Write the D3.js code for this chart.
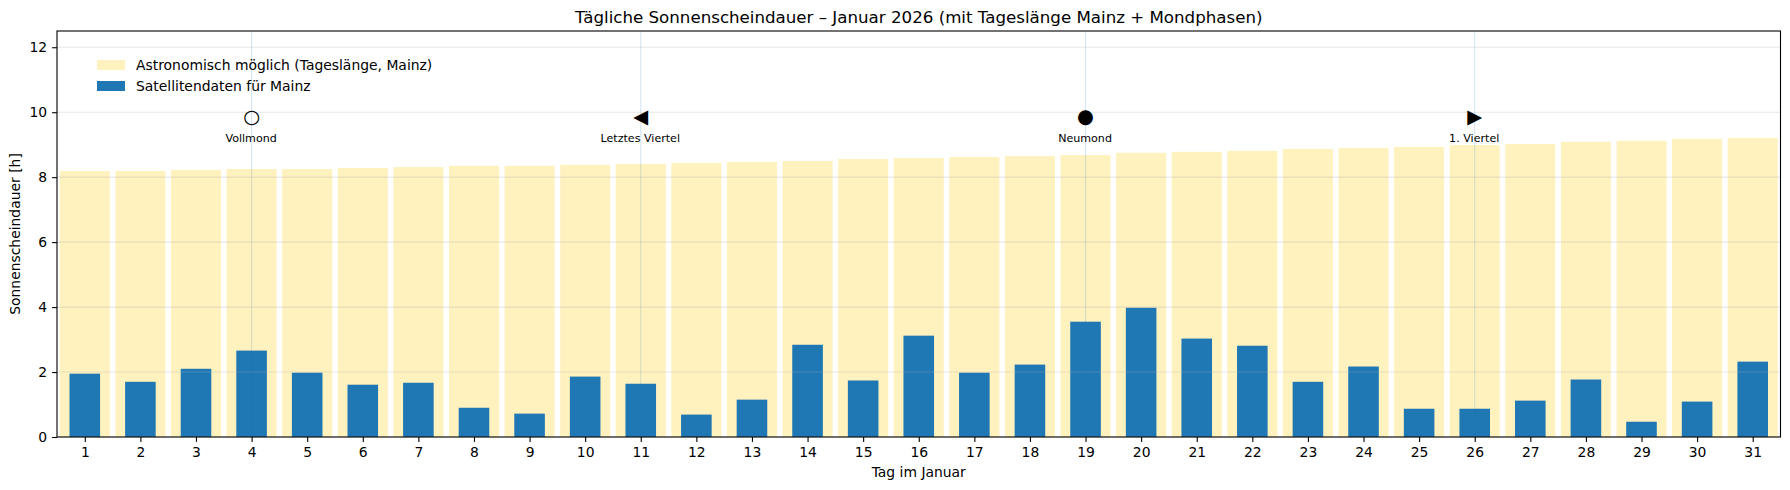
<!DOCTYPE html>
<html>
<head>
<meta charset="utf-8">
<script src="https://cdn.jsdelivr.net/npm/d3@7"></script>
<style>
html, body { margin:0; padding:0; background:#fff; }
svg { display:block; }
text { font-family:"DejaVu Sans"; fill:#000; }
.tick text { font-size:13.9px; }
</style>
</head>
<body>
<div id="chart"></div>
<script>
var days = d3.range(1,32)
var dayLength = [8.19,8.19,8.22,8.25,8.25,8.28,8.31,8.35,8.35,8.38,8.41,8.44,8.47,8.50,8.56,8.59,8.62,8.65,8.68,8.75,8.78,8.81,8.87,8.90,8.93,8.99,9.02,9.09,9.12,9.18,9.21]
var sunshine = [1.95,1.70,2.10,2.66,1.98,1.61,1.67,0.90,0.72,1.86,1.64,0.69,1.15,2.84,1.74,3.12,1.98,2.23,3.55,3.98,3.03,2.81,1.70,2.17,0.87,0.87,1.12,1.77,0.47,1.09,2.32]
var phaseDays = [4,11,19,26]
var phaseNames = ["Vollmond","Letztes Viertel","Neumond","1. Viertel"]
var phaseSymbols = ["○","◀","●","▶"]
var yTicks = [0,2,4,6,8,10,12]
var legendLabels = ["Astronomisch möglich (Tageslänge, Mainz)","Satellitendaten für Mainz"]

var width = 1790, height = 490
var left = 57, right = 1780.5, top_ = 31, bottom = 437
var yellow = "#fff2bf", blue = "#1f77b4"

var x = d3.scaleLinear().domain([0.5,31.5]).range([left,right])
var y = d3.scaleLinear().domain([0,12.5]).range([bottom,top_])
var dayW = x(2)-x(1)

var svg = d3.select("#chart").append("svg").attr("width",width).attr("height",height)

svg.selectAll(".day")
.data(days)
.enter()
.append("rect")
.attr("class","day")
.attr("x",function(d){return x(d-0.45)})
.attr("y",function(d,i){return y(dayLength[i])})
.attr("width",dayW*0.9)
.attr("height",function(d,i){return bottom-y(dayLength[i])})
.attr("fill",yellow)

svg.selectAll(".sun")
.data(days)
.enter()
.append("rect")
.attr("class","sun")
.attr("x",function(d){return x(d-0.275)})
.attr("y",function(d,i){return y(sunshine[i])})
.attr("width",dayW*0.55)
.attr("height",function(d,i){return bottom-y(sunshine[i])})
.attr("fill",blue)

// grid sits above the bars
svg.selectAll(".gridline")
.data(yTicks)
.enter()
.append("line")
.attr("class","gridline")
.attr("x1",left).attr("x2",right)
.attr("y1",function(d){return y(d)}).attr("y2",function(d){return y(d)})
.attr("stroke","#b0b0b0")
.attr("stroke-opacity",0.3)
.attr("stroke-width",1.1)

svg.selectAll(".phaseLine")
.data(phaseDays)
.enter()
.append("line")
.attr("class","phaseLine")
.attr("x1",function(d){return x(d)}).attr("x2",function(d){return x(d)})
.attr("y1",top_).attr("y2",bottom)
.attr("stroke",blue)
.attr("stroke-opacity",0.2)
.attr("stroke-width",1)

svg.selectAll(".phaseSymbol")
.data(phaseDays)
.enter()
.append("text")
.attr("class","phaseSymbol")
.attr("x",function(d){return x(d)})
.attr("y",y(9.88))
.attr("text-anchor","middle")
.attr("dominant-baseline","central")
.style("font-size","19.4px")
.text(function(d,i){return phaseSymbols[i]})

svg.selectAll(".phaseName")
.data(phaseDays)
.enter()
.append("text")
.attr("class","phaseName")
.attr("x",function(d){return x(d)-0.5})
.attr("y",y(9.2))
.attr("text-anchor","middle")
.attr("dominant-baseline","central")
.style("font-size","11.1px")
.text(function(d,i){return phaseNames[i]})

var xAxis = d3.axisBottom(x).tickValues(days).tickSize(4.9).tickPadding(4.9).tickFormat(d3.format("d"))
var yAxis = d3.axisLeft(y).tickValues(yTicks).tickSize(4.9).tickPadding(4.9).tickFormat(d3.format("d"))

var gx = svg.append("g").attr("transform","translate(0,"+bottom+")").call(xAxis)
var gy = svg.append("g").attr("transform","translate("+left+",0)").call(yAxis)
gx.select(".domain").remove()
gy.select(".domain").remove()
svg.selectAll(".tick line").attr("stroke","#000").attr("stroke-width",1.1)
svg.selectAll(".tick text").attr("fill","#000")

svg.append("rect")
.attr("x",left).attr("y",top_)
.attr("width",right-left).attr("height",bottom-top_)
.attr("fill","none").attr("stroke","#000").attr("stroke-width",1.1)

// legend, no frame
var legendColors = [yellow,blue]
var legend = svg.selectAll(".legend")
.data(legendLabels)
.enter()
.append("g")
.attr("class","legend")
.attr("transform",function(d,i){return "translate(97,"+(60+i*21)+")"})
legend.append("rect")
.attr("width",28).attr("height",10)
.attr("fill",function(d,i){return legendColors[i]})
legend.append("text")
.attr("x",39).attr("y",5)
.attr("dominant-baseline","central")
.style("font-size","13.9px")
.text(function(d){return d})

svg.append("text")
.attr("x",(left+right)/2).attr("y",23)
.attr("text-anchor","middle")
.style("font-size","16.67px")
.text("Tägliche Sonnenscheindauer – Januar 2026 (mit Tageslänge Mainz + Mondphasen)")

svg.append("text")
.attr("x",(left+right)/2).attr("y",477)
.attr("text-anchor","middle")
.style("font-size","13.9px")
.text("Tag im Januar")

svg.append("text")
.attr("transform","translate(20,"+(top_+bottom)/2+") rotate(-90)")
.attr("text-anchor","middle")
.style("font-size","13.9px")
.text("Sonnenscheindauer [h]")
</script>
</body>
</html>
